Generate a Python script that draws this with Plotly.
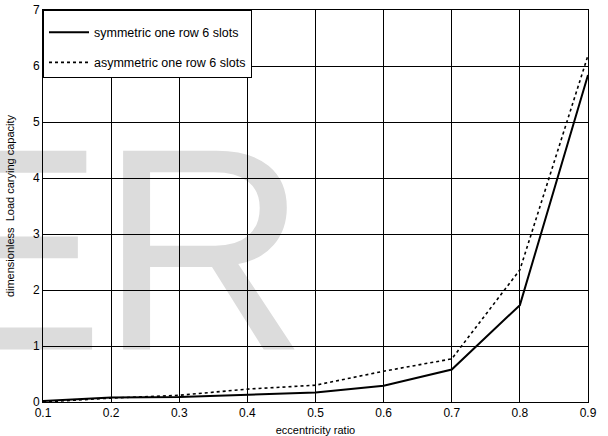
import plotly.graph_objects as go

ecc = [0.1, 0.2, 0.3, 0.4, 0.5, 0.6, 0.7, 0.8, 0.9]
sym = [0.02, 0.08, 0.09, 0.13, 0.17, 0.29, 0.58, 1.73, 5.84]
asym = [0.0, 0.07, 0.12, 0.23, 0.30, 0.55, 0.77, 2.36, 6.19]
names = ["symmetric one row 6 slots", "asymmetric one row 6 slots"]
watermark = ["E", "R"]

FONT = "Liberation Sans, Arial, sans-serif"

fig = go.Figure()
fig.add_trace(go.Scatter(x=ecc, y=sym, mode="lines", name=names[0], legendgroup="a",
                         line=dict(color="black", width=2)))
fig.add_trace(go.Scatter(x=ecc, y=asym, mode="lines", name=names[1], legendgroup="b",
                         line=dict(color="black", width=1.6, dash="dot")))

# watermark letters behind the grid
for letter, cx in zip(watermark, [-0.064, 0.295]):
    fig.add_shape(type="rect", xref="paper", yref="paper", x0=cx - 0.2, x1=cx + 0.2,
                  y0=0.359, y1=0.559, layer="below", line=dict(width=0),
                  fillcolor="rgba(0,0,0,0)",
                  label=dict(text=letter, font=dict(family=FONT, size=289, color="#dcdcdc"),
                             textposition="middle center"))

axis_common = dict(showline=True, linecolor="black", linewidth=1, mirror=True,
                   showgrid=True, gridcolor="black", gridwidth=1, zeroline=False,
                   ticks="inside", ticklen=3, tickcolor="black", automargin=False,
                   tickfont=dict(family=FONT, size=12, color="black"))

fig.update_xaxes(range=[0.1, 0.9], dtick=0.1, tick0=0.1, tickformat=".1f",
                 title=dict(text="eccentricity ratio", font=dict(family=FONT, size=11, color="black"),
                            standoff=6),
                 **axis_common)
fig.update_yaxes(range=[0, 7], dtick=1,
                 title=dict(text="dimensionless  Load carying capacity",
                            font=dict(family=FONT, size=11, color="black"), standoff=16),
                 **axis_common)

fig.update_layout(
    width=608, height=436,
    margin=dict(l=43, r=20, t=10, b=34),
    paper_bgcolor="white", plot_bgcolor="rgba(0,0,0,0)",
    font=dict(family=FONT, color="black"),
    legend=dict(x=0, y=1, xanchor="left", yanchor="top",
                bgcolor="white", bordercolor="black", borderwidth=1,
                font=dict(family=FONT, size=12.5, color="black"),
                title=dict(text=" ", font=dict(size=5)),
                itemwidth=40, tracegroupgap=11, traceorder="grouped"),
    showlegend=True,
)

fig.write_html("out.html")
